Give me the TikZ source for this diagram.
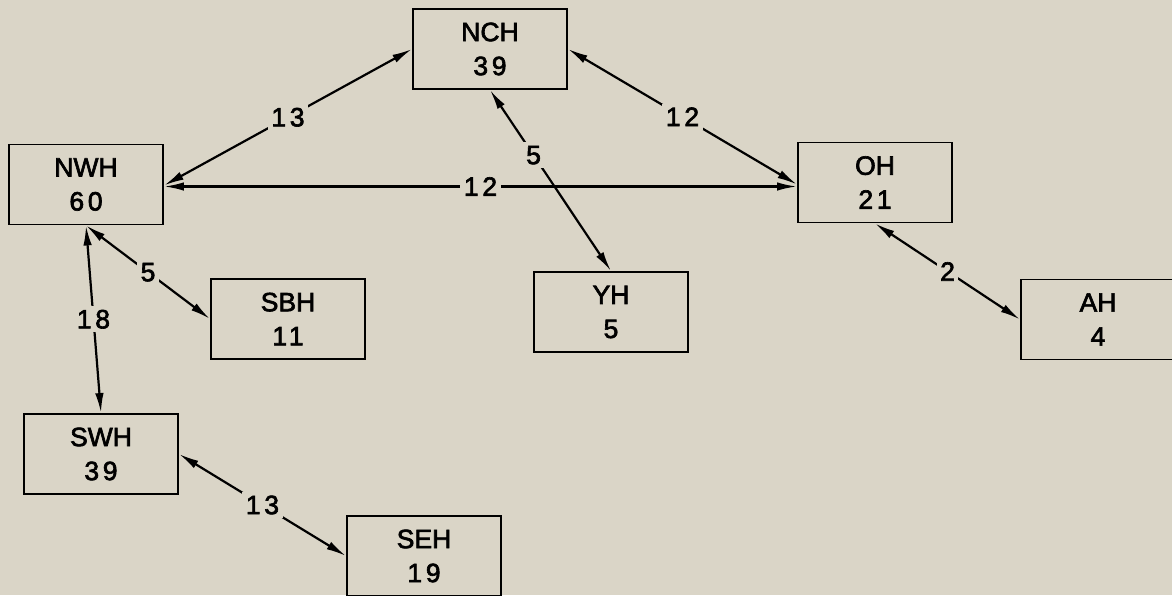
\documentclass[tikz,border=0pt]{standalone}
\usepackage{fontspec}
\setmainfont{Liberation Sans}[FakeBold=2.4]
\newfontfamily\numfont{Liberation Sans}[LetterSpace=14,FakeBold=2.4]
\usetikzlibrary{arrows.meta}
\definecolor{paper}{RGB}{218,213,199}
\begin{document}
\begin{tikzpicture}[x=1pt,y=-1pt,
  box/.style={draw, line width=1.9pt, minimum width=154pt, minimum height=80pt,
    inner sep=0pt, align=center, font=\fontsize{26.5}{34}\selectfont},
  link/.style={{Latex[length=20pt,width=8.5pt]}-{Latex[length=20pt,width=8.5pt]}, line width=2.2pt},
  lbl/.style={fill=paper, inner sep=3.5pt, font=\numfont\fontsize{26.5}{30}\selectfont}]
  \fill[paper] (0,0) rectangle (1172,595);
  \useasboundingbox (0,0) rectangle (1172,595);

  % houses with their counts
  \node[box] (NCH) at (490,49)    {NCH\\{\numfont 39}};
  \node[box] (NWH) at (86,184.5)  {NWH\\{\numfont 60}};
  \node[box] (OH)  at (875,182.5) {OH\\{\numfont 21}};
  \node[box] (SBH) at (288,319)   {SBH\\{\numfont 11}};
  \node[box] (YH)  at (611,312)   {YH\\{\numfont 5}};
  \node[box] (AH)  at (1098,319.5){AH\\{\numfont 4}};
  \node[box] (SWH) at (101,454)   {SWH\\{\numfont 39}};
  \node[box] (SEH) at (424,556)   {SEH\\{\numfont 19}};

  % two-way links with their weights
  \draw[link] (NCH.west)  -- node[lbl] {13} ([yshift=-1pt]NWH.east);
  \draw[link] (NCH.east)  -- node[lbl] {12} ([yshift=-2pt]OH.west);
  \draw[link] ([yshift=-2pt]NWH.east) -- node[lbl] {12} ([yshift=-4pt]OH.west);
  \draw[link] (NCH.south) -- node[lbl,pos=0.36] {5} (YH.north);
  \draw[link] (NWH.south) -- node[lbl] {5} (SBH.west);
  \draw[link] (NWH.south) -- node[lbl] {18} (SWH.north);
  \draw[link] (OH.south)  -- node[lbl] {2} (AH.west);
  \draw[link] (SWH.east)  -- node[lbl] {13} (SEH.west);
\end{tikzpicture}
\end{document}
